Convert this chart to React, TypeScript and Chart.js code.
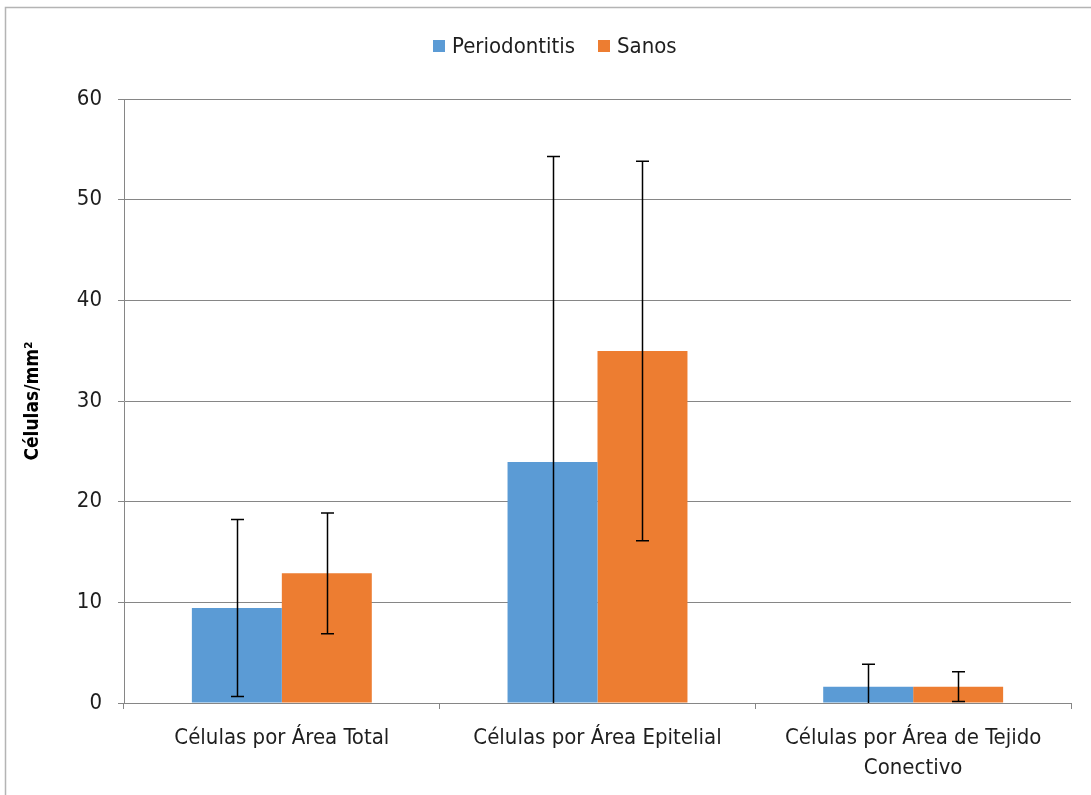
import React, { useEffect, useRef } from "react";
import { Chart, registerables } from "chart.js";

Chart.register(...registerables);

const categories: (string | string[])[] = [
  "Células por Área Total",
  "Células por Área Epitelial",
  ["Células por Área de Tejido", "Conectivo"],
];
const seriesNames = ["Periodontitis", "Sanos"];
const periodontitis = [9.44, 23.94, 1.62];
const periodontitisErr = [8.8, 30.35, 2.22];
const sanos = [12.88, 34.97, 1.62];
const sanosErr = [6.0, 18.85, 1.48];
const yTicks = [0, 10, 20, 30, 40, 50, 60];
const colors = ["#5B9BD5", "#ED7D31"];
const yTitle = "Células/mm²";

const FONT = "'Liberation Sans Narrow', 'DejaVu Sans Condensed', 'Arial Narrow', sans-serif";
const TEXT = "#1e1e1e";

export default function App() {
  const ref = useRef<HTMLCanvasElement | null>(null);
  useEffect(() => {
    if (!ref.current) return;
    const errs = [periodontitisErr, sanosErr];
    const errorBars = {
      id: "errorBars",
      afterDatasetsDraw(chart: any) {
        const ctx = chart.ctx;
        const y = chart.scales.y;
        ctx.save();
        ctx.strokeStyle = "#000";
        ctx.lineWidth = 1.5;
        chart.data.datasets.forEach((ds: any, di: number) => {
          const meta = chart.getDatasetMeta(di);
          meta.data.forEach((bar: any, i: number) => {
            const v = ds.data[i] as number;
            const e = errs[di][i];
            const x = Math.round(bar.x) + 0.5;
            const hiV = v + e;
            const loV = Math.max(0, v - e);
            const top = y.getPixelForValue(hiV);
            const bot = y.getPixelForValue(loV);
            ctx.beginPath();
            ctx.moveTo(x, top);
            ctx.lineTo(x, bot);
            ctx.moveTo(x - 6.5, top);
            ctx.lineTo(x + 6.5, top);
            if (v - e > 0) {
              ctx.moveTo(x - 6.5, bot);
              ctx.lineTo(x + 6.5, bot);
            }
            ctx.stroke();
          });
        });
        ctx.restore();
      },
    };
    const frame = {
      id: "frame",
      afterDraw(chart: any) {
        const ctx = chart.ctx;
        ctx.save();
        ctx.strokeStyle = "#b4b4b4";
        ctx.lineWidth = 1.5;
        ctx.strokeRect(5.5, 7.5, 1200, 900);
        // legend
        ctx.font = `22px ${FONT}`;
        ctx.textBaseline = "middle";
        ctx.textAlign = "left";
        const items = [
          { x: 433, tx: 452 },
          { x: 598, tx: 617 },
        ];
        items.forEach((it, i) => {
          ctx.fillStyle = colors[i];
          ctx.fillRect(it.x, 40, 12, 12);
          ctx.fillStyle = TEXT;
          ctx.fillText(seriesNames[i], it.tx, 47);
        });
        ctx.restore();
      },
    };
    const chart = new Chart(ref.current, {
      type: "bar",
      data: {
        labels: categories,
        datasets: [
          {
            label: seriesNames[0],
            data: periodontitis,
            backgroundColor: colors[0],
            categoryPercentage: 0.57,
            barPercentage: 1,
          },
          {
            label: seriesNames[1],
            data: sanos,
            backgroundColor: colors[1],
            categoryPercentage: 0.57,
            barPercentage: 1,
          },
        ],
      },
      options: {
        animation: false,
        responsive: false,
        maintainAspectRatio: false,
        layout: { padding: { top: 99, right: 20, left: 0, bottom: 0 } },
        plugins: {
          legend: { display: false },
          tooltip: { enabled: false },
        },
        scales: {
          x: {
            afterFit(scale: any) {
              scale.height = 92;
            },
            grid: {
              display: true,
              drawOnChartArea: false,
              drawTicks: true,
              tickLength: 6,
              color: "#868686",
              offset: true,
            },
            border: { color: "#868686", width: 1 },
            ticks: {
              color: TEXT,
              font: { family: FONT, size: 22, lineHeight: 1.36 },
              padding: 14,
              maxRotation: 0,
              autoSkip: false,
            },
          },
          y: {
            min: 0,
            max: 60,
            afterFit(scale: any) {
              scale.width = 124;
            },
            afterBuildTicks(scale: any) {
              scale.ticks = yTicks.map((v) => ({ value: v }));
            },
            grid: {
              color: "#868686",
              tickLength: 6,
              drawTicks: true,
            },
            border: { color: "#868686", width: 1 },
            ticks: {
              color: TEXT,
              font: { family: FONT, size: 22 },
              padding: 16,
            },
            title: {
              display: true,
              text: yTitle,
              color: "#000",
              font: { family: FONT, size: 19, weight: "bold" },
              padding: { top: 22, bottom: 0 },
            },
          },
        },
      },
      plugins: [errorBars, frame],
    });
    return () => chart.destroy();
  }, []);
  return (
    <div style={{ position: "fixed", left: 0, top: 0, width: 1091, height: 795, background: "#fff" }}>
      <canvas ref={ref} width={1091} height={795} style={{ width: 1091, height: 795, display: "block" }} />
    </div>
  );
}
